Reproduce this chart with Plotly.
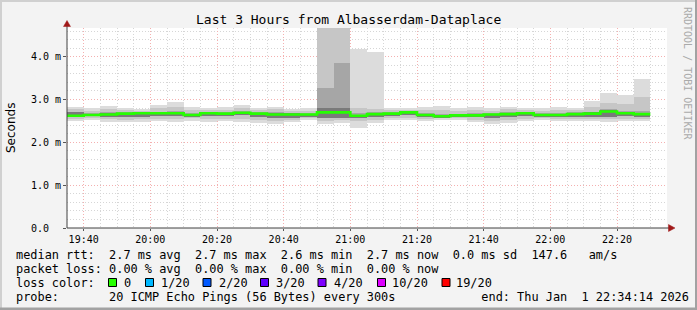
import plotly.graph_objects as go
import pandas as pd

# ---------------- data (ms) ----------------
slot_start = ["19:35", "19:40", "19:45", "19:50", "19:55", "20:00", "20:05", "20:10",
              "20:15", "20:20", "20:25", "20:30", "20:35", "20:40", "20:45", "20:50",
              "20:55", "21:00", "21:05", "21:10", "21:15", "21:20", "21:25", "21:30",
              "21:35", "21:40", "21:45", "21:50", "21:55", "22:00", "22:05", "22:10",
              "22:15", "22:20", "22:25"]
median_rtt = [2.62, 2.64, 2.65, 2.67, 2.68, 2.68, 2.68, 2.64, 2.68, 2.67, 2.69, 2.67,
              2.65, 2.65, 2.65, 2.70, 2.70, 2.62, 2.66, 2.67, 2.70, 2.64, 2.61, 2.63,
              2.63, 2.65, 2.66, 2.68, 2.64, 2.64, 2.66, 2.67, 2.72, 2.68, 2.66]
smoke_min = [2.50, 2.53, 2.48, 2.47, 2.47, 2.49, 2.47, 2.51, 2.47, 2.49, 2.47, 2.45,
             2.43, 2.47, 2.52, 2.42, 2.45, 2.33, 2.45, 2.52, 2.53, 2.50, 2.52, 2.52,
             2.47, 2.43, 2.45, 2.50, 2.52, 2.50, 2.51, 2.49, 2.47, 2.49, 2.50]
smoke_max = [2.82, 2.80, 2.85, 2.80, 2.78, 2.88, 2.95, 2.82, 2.80, 2.82, 2.87, 2.80,
             2.82, 2.78, 2.80, 4.90, 4.90, 4.18, 4.10, 2.81, 2.80, 2.83, 2.85, 2.80,
             2.82, 2.80, 2.83, 2.80, 2.80, 2.82, 2.80, 2.97, 3.16, 3.11, 3.48]
smoke_q_lo = [2.55, 2.57, 2.55, 2.53, 2.54, 2.55, 2.54, 2.56, 2.54, 2.55, 2.54, 2.52,
              2.50, 2.53, 2.56, 2.50, 2.52, 2.50, 2.52, 2.56, 2.57, 2.55, 2.56, 2.56,
              2.53, 2.50, 2.52, 2.55, 2.56, 2.55, 2.55, 2.54, 2.54, 2.55, 2.55]
smoke_q_hi = [2.78, 2.74, 2.77, 2.75, 2.74, 2.80, 2.82, 2.75, 2.75, 2.76, 2.80, 2.75,
              2.77, 2.73, 2.74, 4.90, 4.90, 2.80, 2.78, 2.76, 2.76, 2.76, 2.76, 2.74,
              2.75, 2.74, 2.78, 2.76, 2.74, 2.75, 2.75, 2.83, 2.93, 2.90, 3.07]
smoke_core_lo = [2.60, 2.61, 2.60, 2.60, 2.60, 2.62, 2.62, 2.60, 2.62, 2.62, 2.63, 2.60,
                 2.58, 2.58, 2.60, 2.58, 2.58, 2.57, 2.60, 2.61, 2.63, 2.59, 2.58, 2.59,
                 2.59, 2.58, 2.60, 2.62, 2.60, 2.59, 2.60, 2.60, 2.60, 2.61, 2.60]
smoke_core_hi = [2.72, 2.68, 2.70, 2.71, 2.70, 2.72, 2.73, 2.69, 2.71, 2.70, 2.73, 2.70,
                 2.70, 2.69, 2.69, 3.26, 3.85, 2.68, 2.70, 2.70, 2.73, 2.68, 2.67, 2.67,
                 2.68, 2.68, 2.70, 2.71, 2.68, 2.68, 2.70, 2.72, 2.78, 2.74, 2.73]
smoke_dark_hi = [2.70, 2.66, 2.68, 2.69, 2.69, 2.70, 2.70, 2.67, 2.70, 2.69, 2.71, 2.69,
                 2.68, 2.68, 2.67, 2.80, 2.80, 2.65, 2.68, 2.69, 2.71, 2.66, 2.64, 2.65,
                 2.66, 2.67, 2.68, 2.70, 2.66, 2.66, 2.68, 2.70, 2.75, 2.71, 2.69]

y_tick_vals = [0, 1, 2, 3, 4]
y_tick_text = ["0.0\u00a0\u00a0", "1.0 m", "2.0 m", "3.0 m", "4.0 m"]

loss_labels = ["0", "1/20", "2/20", "3/20", "4/20", "10/20", "19/20"]
loss_colors = ["#26ff00", "#00b8ff", "#0059ff", "#5e00ff", "#7e00ff", "#dd00ff", "#ff0000"]

legend_lines = [
    "median rtt:  2.7 ms avg  2.7 ms max  2.6 ms min  2.7 ms now  0.0 ms sd  147.6   am/s",
    "packet loss: 0.00 % avg  0.00 % max  0.00 % min  0.00 % now",
    "loss color:",
    "probe:       20 ICMP Echo Pings (56 Bytes) every 300s            end: Thu Jan  1 22:34:14 2026",
]

# ---------------- geometry helpers ----------------
W, H = 697, 310
L, R, T, B = 67, 667, 28, 228


def px(x):
    return (x - L) / (R - L)


def py(y):
    return (B - y) / (B - T)


day = "2026-01-01 "
starts = pd.to_datetime([day + s for s in slot_start])
centers = starts + pd.Timedelta(minutes=2.5)
end_time = starts[-1] + pd.Timedelta(minutes=5)

fig = go.Figure()

layers = [
    (smoke_min, smoke_max, "#dcdcdc"),
    (smoke_q_lo, smoke_q_hi, "#c6c6c6"),
    (smoke_core_lo, smoke_core_hi, "#a6a6a6"),
    (smoke_core_lo, smoke_dark_hi, "#7a7a7a"),
]
for lo, hi, col in layers:
    fig.add_trace(go.Bar(
        x=centers, base=lo, y=[h - l for l, h in zip(lo, hi)],
        width=300000, marker=dict(color=col, line=dict(width=0)),
        hoverinfo="skip", showlegend=False,
    ))

fig.add_trace(go.Scatter(
    x=list(starts) + [end_time], y=median_rtt + [median_rtt[-1]],
    mode="lines", line=dict(color="#26ff00", width=2.6, shape="hv"),
    hoverinfo="skip", showlegend=False,
))

mono = "DejaVu Sans Mono"
grid_dash = "1px,2px"

fig.update_layout(
    width=W, height=H,
    margin=dict(l=L, r=W - R, t=T, b=H - B, pad=0),
    paper_bgcolor="#f3f3f3", plot_bgcolor="#ffffff",
    barmode="overlay", bargap=0,
    font=dict(family=mono, size=10, color="#000000"),
    xaxis=dict(
        type="date",
        range=[day + "19:35", day + "22:35"],
        tickformat="%H:%M", dtick=1200000, tick0=day + "19:40",
        showgrid=True, gridcolor="#f4b0b0", griddash=grid_dash, gridwidth=1,
        minor=dict(dtick=300000, tick0=day + "19:35", showgrid=True,
                   gridcolor="#d6d6d6", griddash=grid_dash, ticks=""),
        ticks="outside", ticklen=2, tickcolor="#555555",
        showline=False, zeroline=False,
        tickfont=dict(family=mono, size=10, color="#000000"),
        fixedrange=True,
    ),
    yaxis=dict(
        range=[0, 4.67],
        tickvals=y_tick_vals, ticktext=y_tick_text,
        showgrid=True, gridcolor="#f4b0b0", griddash=grid_dash, gridwidth=1,
        minor=dict(dtick=0.2, showgrid=True, gridcolor="#d6d6d6",
                   griddash=grid_dash, ticks=""),
        ticks="outside", ticklen=3, tickcolor="#555555",
        showline=False, zeroline=False,
        tickfont=dict(family=mono, size=10, color="#000000"),
        fixedrange=True,
    ),
)

shapes = []
# axes lines
shapes.append(dict(type="line", xref="paper", yref="paper", x0=px(67), x1=px(670),
                   y0=py(228), y1=py(228), line=dict(color="#404040", width=1)))
shapes.append(dict(type="line", xref="paper", yref="paper", x0=px(67), x1=px(67),
                   y0=py(228), y1=py(24), line=dict(color="#404040", width=1)))
# arrows
shapes.append(dict(type="path", xref="paper", yref="paper",
                   path=f"M {px(67)},{py(20.5)} L {px(63.5)},{py(26.5)} L {px(70.5)},{py(26.5)} Z",
                   fillcolor="#a01818", line=dict(color="#a01818", width=0.5)))
shapes.append(dict(type="path", xref="paper", yref="paper",
                   path=f"M {px(675)},{py(228)} L {px(668.5)},{py(224.5)} L {px(668.5)},{py(231.5)} Z",
                   fillcolor="#a01818", line=dict(color="#a01818", width=0.5)))
# frame
shapes.append(dict(type="rect", xref="paper", yref="paper", x0=px(0), x1=px(W),
                   y0=py(0), y1=py(2), fillcolor="#d0d0d0", line=dict(width=0)))
shapes.append(dict(type="rect", xref="paper", yref="paper", x0=px(0), x1=px(2),
                   y0=py(0), y1=py(H), fillcolor="#d0d0d0", line=dict(width=0)))
shapes.append(dict(type="rect", xref="paper", yref="paper", x0=px(0), x1=px(W),
                   y0=py(H - 2.5), y1=py(H), fillcolor="#a2a2a2", line=dict(width=0)))
shapes.append(dict(type="rect", xref="paper", yref="paper", x0=px(W - 2), x1=px(W),
                   y0=py(0), y1=py(H), fillcolor="#a2a2a2", line=dict(width=0)))

# loss colour boxes
box_x = [108.5, 145.5, 203, 260.5, 318, 377.5, 442]
label_x = [122.5, 159.5, 217.5, 275, 332.5, 391, 454.5]
for bx, col in zip(box_x, loss_colors):
    shapes.append(dict(type="rect", xref="paper", yref="paper",
                       x0=px(bx), x1=px(bx + 8), y0=py(278.5), y1=py(286.5),
                       fillcolor=col, line=dict(color="#000000", width=1)))
fig.update_layout(shapes=shapes)

ann = []
ann.append(dict(text="Last 3 Hours from Albasserdam-Dataplace", x=px(348), y=py(19.5),
                xref="paper", yref="paper", showarrow=False, xanchor="center", yanchor="middle",
                font=dict(family=mono, size=13, color="#000000")))
ann.append(dict(text="Seconds", x=px(11), y=py(128), xref="paper", yref="paper",
                showarrow=False, textangle=-90, xanchor="center", yanchor="middle",
                font=dict(family="DejaVu Sans", size=12, color="#000000")))
ann.append(dict(text="RRDTOOL / TOBI OETIKER", x=px(688), y=py(73), xref="paper", yref="paper",
                showarrow=False, textangle=90, xanchor="center", yanchor="middle",
                font=dict(family=mono, size=10, color="#aaaaaa")))
line_y = [254.5, 268.5, 282.5, 296.5]
for txt, yy in zip(legend_lines, line_y):
    ann.append(dict(text=txt.replace(" ", "\u00a0"), x=px(14.5), y=py(yy),
                    xref="paper", yref="paper", showarrow=False,
                    xanchor="left", yanchor="middle", borderpad=0,
                    font=dict(family=mono, size=11.9, color="#000000")))
for lx, lab in zip(label_x, loss_labels):
    ann.append(dict(text=lab, x=px(lx), y=py(line_y[2]), xref="paper", yref="paper",
                    showarrow=False, xanchor="left", yanchor="middle", borderpad=0,
                    font=dict(family=mono, size=11.9, color="#000000")))
fig.update_layout(annotations=ann)

fig.write_html("out.html")
